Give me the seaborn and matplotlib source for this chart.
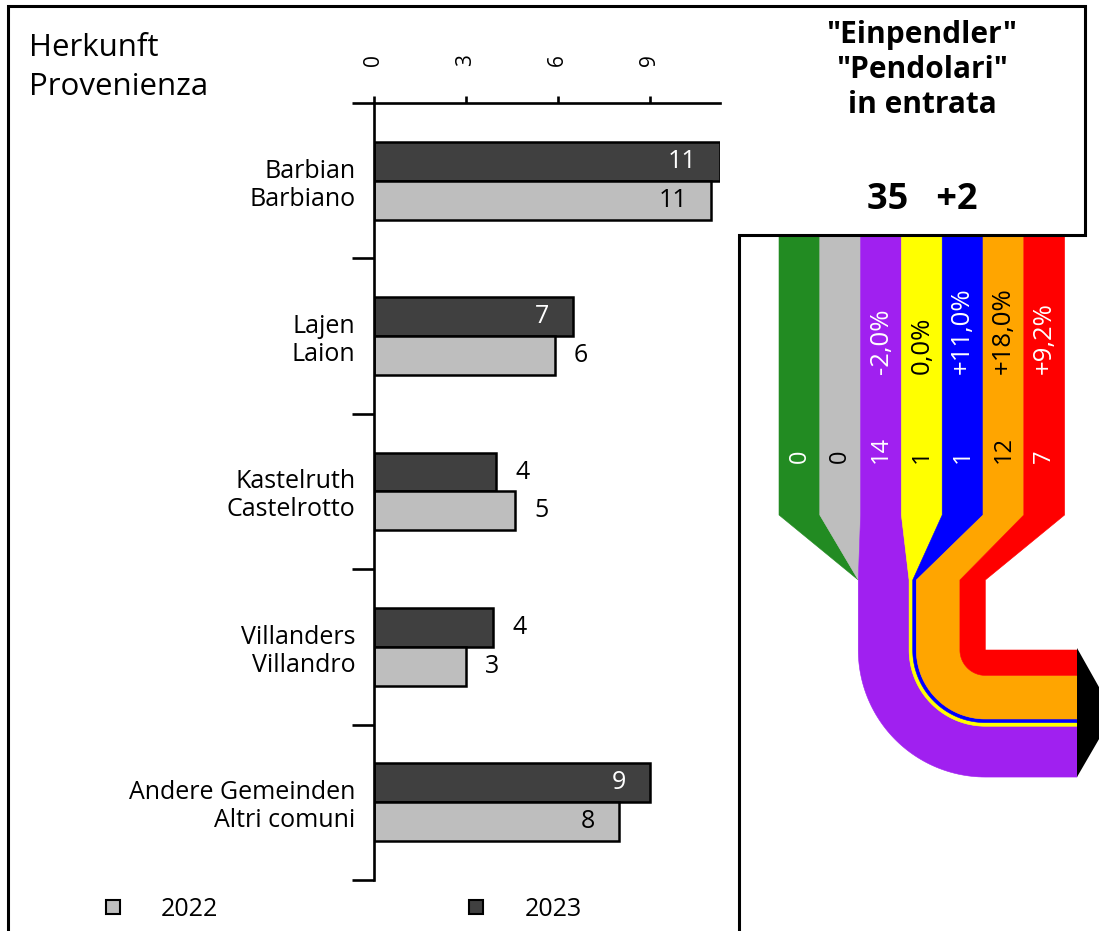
import numpy as np
import pandas as pd
import seaborn as sns
import matplotlib
matplotlib.use("Agg")
import matplotlib.pyplot as plt
from matplotlib.lines import Line2D

# ---------------- data ----------------
regions_de = ["Barbian", "Lajen", "Kastelruth", "Villanders", "Andere Gemeinden"]
regions_it = ["Barbiano", "Laion", "Castelrotto", "Villandro", "Altri comuni"]
values_2022 = [11.0, 5.9, 4.6, 3.0, 8.0]
values_2023 = [11.3, 6.5, 4.0, 3.9, 9.0]
labels_2022 = [11, 6, 5, 3, 8]
labels_2023 = [11, 7, 4, 4, 9]
x_ticks = [0, 3, 6, 9]

flow_colors = ["#228B22", "#BEBEBE", "#A020F0", "#FFFF00", "#0000FF", "#FFA500", "#FF0000"]
flow_text_colors = ["white", "black", "white", "black", "white", "black", "white"]
flow_values = [0, 0, 14, 1, 1, 12, 7]
flow_changes = ["", "", "-2,0%", "0,0%", "+11,0%", "+18,0%", "+9,2%"]
total_label = "35"
total_change = "+2"
title_lines = ['"Einpendler"', '"Pendolari"', "in entrata"]
header_lines = ["Herkunft", "Provenienza"]

# ---------------- style ----------------
sns.set_theme(style="white")
plt.rcParams["font.family"] = ["Open Sans", "DejaVu Sans"]
for key in ["text.color", "axes.labelcolor", "xtick.color", "ytick.color"]:
    plt.rcParams[key] = "black"

W_PX, H_PX = 1099, 931
fig = plt.figure(figsize=(W_PX / 100, H_PX / 100), dpi=100)

# overlay axes in pixel coordinates (frame, flow diagram, texts)
ax_o = fig.add_axes([0, 0, 1, 1], zorder=0)
ax_o.set_xlim(0, W_PX)
ax_o.set_ylim(H_PX, 0)
ax_o.axis("off")

# ---------------- bar chart ----------------
left, right, top, bottom = 374, 720, 103, 880
ax = fig.add_axes([left / W_PX, 1 - bottom / H_PX, (right - left) / W_PX, (bottom - top) / H_PX], zorder=2)
ax.patch.set_alpha(0)

cats = [f"{d}\n{i}" for d, i in zip(regions_de, regions_it)]
df = pd.DataFrame({
    "region": cats * 2,
    "year": ["2022"] * len(cats) + ["2023"] * len(cats),
    "value": values_2022 + values_2023,
})
pal = {"2023": "#404040", "2022": "#BEBEBE"}
sns.barplot(data=df, x="value", y="region", hue="year", hue_order=["2023", "2022"],
            palette=pal, width=0.5, edgecolor="black", linewidth=1.8, saturation=1,
            orient="h", legend=False, ax=ax)

ax.set_xlim(0, max(values_2022 + values_2023))
ax.set_ylim(len(cats) - 0.5, -0.5)
ax.set_xlabel("")
ax.set_ylabel("")

for s in ["bottom", "right"]:
    ax.spines[s].set_visible(False)
for s in ["left", "top"]:
    ax.spines[s].set_visible(True)
    ax.spines[s].set_linewidth(1.9)
    ax.spines[s].set_color("black")

ax.xaxis.tick_top()
ax.set_xticks(x_ticks)
ax.set_xticklabels([str(t) for t in x_ticks], rotation=90, fontsize=15)
ax.tick_params(axis="x", which="major", top=True, bottom=False, direction="out",
               length=5, width=1.9, color="black", pad=22)

ax.set_yticks(np.arange(len(cats) + 1) - 0.5)
ax.set_yticklabels([])
ax.set_yticks(np.arange(len(cats)), minor=True)
ax.set_yticklabels(cats, minor=True, fontsize=18, ha="right", linespacing=1.15)
ax.tick_params(axis="y", which="major", left=True, direction="out", length=16, width=1.9, color="black")
ax.tick_params(axis="y", which="minor", left=True, length=0, pad=13.5)

label_map = {0: labels_2023, 1: labels_2022}
text_col = {0: "white", 1: "black"}
for ci, cont in enumerate(ax.containers):
    for j, p in enumerate(cont.patches):
        w = p.get_width()
        yc = p.get_y() + p.get_height() / 2
        lab = str(label_map[ci][j])
        if w >= 6.2:
            ax.annotate(lab, (w, yc), xytext=(-17, 0), textcoords="offset points",
                        ha="right", va="center", fontsize=18, color=text_col[ci])
        else:
            ax.annotate(lab, (w, yc), xytext=(14, 0), textcoords="offset points",
                        ha="left", va="center", fontsize=18, color="black")

# header text
ax_o.text(29, 33, "\n".join(header_lines), ha="left", va="top", fontsize=22.5, linespacing=1.38)

# legend
handles = [Line2D([], [], ls="", marker="s", markersize=10, markerfacecolor=pal[y],
                  markeredgecolor="black", markeredgewidth=1.5) for y in ["2022", "2023"]]
fig.legend(handles, ["2022", "2023"], ncol=2, loc="center left",
           bbox_to_anchor=(100 / W_PX, 1 - 909 / H_PX), frameon=False, fontsize=18,
           handlelength=1.0, handletextpad=1.45, columnspacing=9.8, borderpad=0, borderaxespad=0)

# ---------------- frame ----------------
lw_frame = 2.2
ax_o.plot([8, 8, 1085, 1085, 739, 739], [H_PX, 6, 6, 235, 235, H_PX], color="black",
          lw=lw_frame, solid_joinstyle="miter", zorder=5)

# title box texts
for k_, line in enumerate(title_lines):
    ax_o.text(922, 35 + 35 * k_, line, ha="center", va="center", fontsize=21.5, weight="bold")
ax_o.text(922, 200, f"{total_label}   {total_change}", ha="center", va="center",
          fontsize=26, weight="bold")

# ---------------- flow diagram ----------------
kpx = 3.63            # px per commuter
cw = 40.8             # column width
x0 = 779
y_top, y_a, y_b, y_c = 236, 515, 580, 650
x_end = 1077
n = len(flow_values)
total = sum(flow_values)
Wb = total * kpx
center = x0 + n * cw / 2
bx = center - Wb / 2
cx, cy = bx + Wb, y_c
t = np.linspace(0, np.pi / 2, 60)

cum = bx
for i, v in enumerate(flow_values):
    tl, tr = x0 + i * cw, x0 + (i + 1) * cw
    bl, br = cum, cum + v * kpx
    cum = br
    xs = [tl, tr, tr, br]
    ys = [y_top, y_top, y_a, y_b]
    if v > 0:
        r_out, r_in = cx - bl, cx - br
        xs += [br] + list(cx - r_in * np.cos(t)) + [x_end, x_end] + list((cx - r_out * np.cos(t))[::-1]) + [bl]
        ys += [y_c] + list(cy + r_in * np.sin(t)) + [cy + r_in, cy + r_out] + list((cy + r_out * np.sin(t))[::-1]) + [y_c]
    xs += [bl, tl]
    ys += [y_b, y_a]
    ax_o.fill(xs, ys, color=flow_colors[i], lw=0.4, ec=flow_colors[i], zorder=3)

    xc = (tl + tr) / 2
    ax_o.text(xc, 463, str(v), rotation=90, ha="center", va="bottom", fontsize=17,
              color=flow_text_colors[i], zorder=4)
    if flow_changes[i]:
        ax_o.text(xc, 374, flow_changes[i], rotation=90, ha="center", va="bottom", fontsize=18.5,
                  color=flow_text_colors[i], zorder=4)

# arrow head
ax_o.fill([x_end, x_end + 0.29 * Wb, x_end], [y_c - 2, y_c + Wb / 2, y_c + Wb],
          color="black", lw=0, zorder=3)

fig.savefig("out.png", dpi=100)
